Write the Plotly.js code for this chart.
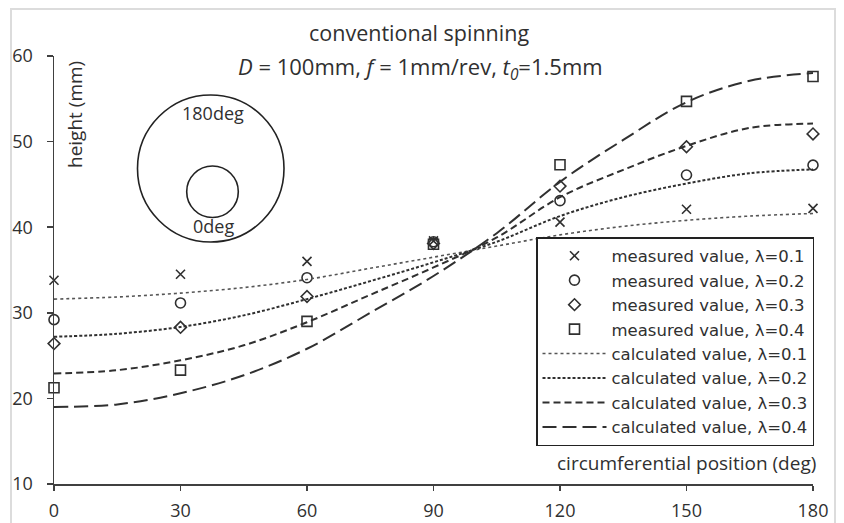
<!DOCTYPE html>
<html>
<head>
<meta charset="utf-8">
<script src="https://cdn.plot.ly/plotly-3.0.1.min.js"></script>
<style>
  html, body { margin: 0; padding: 0; background: #fff; }
  #frame { position: absolute; left: 10px; top: 8px; width: 826px; height: 540px; border: 2px solid #dcdcdc; box-sizing: border-box; }
  #chart { position: absolute; left: 0; top: 0; width: 844px; height: 523px; }
</style>
</head>
<body>
<div id="frame"></div>
<div id="chart"></div>
<script>
// measured positions (deg)
const measX = [0, 30, 60, 90, 120, 150, 180];
const meas01 = [33.8, 34.5, 36.0, 38.4, 40.6, 42.1, 42.2];
const meas02 = [29.2, 31.15, 34.1, 38.3, 43.1, 46.1, 47.25];
const meas03 = [26.4, 28.3, 31.9, 38.1, 44.8, 49.4, 50.9];
const meas04 = [21.25, 23.3, 29.0, 38.0, 47.3, 54.7, 57.6];

// calculated curves (deg)
const calcX = [0, 15, 30, 45, 60, 75, 90, 105, 120, 135, 150, 165, 180];
const calc01 = [31.6, 31.85, 32.3, 32.95, 33.9, 35.2, 36.5, 37.8, 39.1, 40.1, 40.8, 41.3, 41.6];
const calc02 = [27.2, 27.55, 28.35, 29.7, 31.6, 33.7, 35.9, 38.3, 41.3, 43.5, 45.1, 46.3, 46.75];
const calc03 = [22.9, 23.3, 24.45, 26.2, 28.9, 32.1, 35.3, 38.8, 43.5, 46.7, 49.5, 51.6, 52.1];
const calc04 = [19.0, 19.3, 20.6, 22.7, 25.8, 30.0, 34.3, 39.3, 45.3, 50.2, 54.6, 57.1, 58.0];

const xTicks = [0, 30, 60, 90, 120, 150, 180];
const yTicks = [10, 20, 30, 40, 50, 60];

const measNames = ['measured value, λ=0.1', 'measured value, λ=0.2', 'measured value, λ=0.3', 'measured value, λ=0.4'];
const calcNames = ['calculated value, λ=0.1', 'calculated value, λ=0.2', 'calculated value, λ=0.3', 'calculated value, λ=0.4'];

const FONT = '"Open Sans", sans-serif';
const LEGFONT = '"DejaVu Sans", sans-serif';
const DARK = '#303030';

function meas(y, name, symbol, size) {
  return {
    x: measX, y: y, name: name, type: 'scatter', mode: 'markers', cliponaxis: false,
    marker: { symbol: symbol, size: size, color: DARK, line: { color: DARK, width: 1.6 } }
  };
}
function calc(y, name, dash, width, color) {
  return {
    x: calcX, y: y, name: name, type: 'scatter', mode: 'lines', cliponaxis: false,
    line: { shape: 'spline', smoothing: 1, dash: dash, width: width, color: color }
  };
}

const data = [
  meas(meas01, measNames[0], 'x-thin-open', 9),
  meas(meas02, measNames[1], 'circle-open', 10),
  meas(meas03, measNames[2], 'diamond-open', 9),
  meas(meas04, measNames[3], 'square-open', 10),
  calc(calc01, calcNames[0], 'dot', 1.6, '#555555'),
  calc(calc02, calcNames[1], '3px,2px', 2, DARK),
  calc(calc03, calcNames[2], '7px,4px', 2, DARK),
  calc(calc04, calcNames[3], '14px,6px', 2, DARK)
];

const L = 54, R = 31, T = 56, B = 39;
const W = 844 - L - R, H = 523 - T - B;
const px = X => (X - L) / W;
const py = Y => (523 - B - Y) / H;

const layout = {
  width: 844, height: 523,
  margin: { l: L, r: R, t: T, b: B },
  paper_bgcolor: 'rgba(0,0,0,0)', plot_bgcolor: 'rgba(0,0,0,0)',
  font: { family: FONT, color: DARK, size: 18 },
  showlegend: true,
  legend: {
    x: px(814), xanchor: 'right', y: py(237), yanchor: 'top',
    bordercolor: '#222', borderwidth: 1.5, bgcolor: '#fff',
    font: { family: LEGFONT, size: 16.5, color: DARK },
    itemwidth: 64, tracegroupgap: 0
  },
  xaxis: {
    range: [0, 180], tickvals: xTicks, ticktext: xTicks.map(String),
    showgrid: false, zeroline: false, showline: true, linecolor: '#404040', linewidth: 1.5,
    ticks: 'outside', ticklen: 5, tickwidth: 1.5, tickcolor: '#404040', ticklabelstandoff: 5,
    tickfont: { family: FONT, size: 18, color: DARK }
  },
  yaxis: {
    range: [10, 60], tickvals: yTicks, ticktext: yTicks.map(String),
    showgrid: false, zeroline: false, showline: true, linecolor: '#404040', linewidth: 1.5,
    ticks: 'outside', ticklen: 6, tickwidth: 1.5, tickcolor: '#404040', ticklabelstandoff: 10,
    tickfont: { family: FONT, size: 18, color: DARK }
  },
  shapes: [
    { type: 'circle', xref: 'paper', yref: 'paper', x0: px(137.5), x1: px(284), y0: py(242), y1: py(95), line: { color: '#222', width: 1.6 } },
    { type: 'circle', xref: 'paper', yref: 'paper', x0: px(186.7), x1: px(238.3), y0: py(217.5), y1: py(166), line: { color: '#222', width: 1.6 } }
  ],
  annotations: [
    { text: 'conventional spinning', xref: 'paper', yref: 'paper', x: px(419), y: py(33), showarrow: false, xanchor: 'center', yanchor: 'middle', font: { size: 21.5, family: FONT, color: DARK } },
    { text: '<i>D</i> = 100mm, <i>f</i> = 1mm/rev, <i>t</i><sub><i>0</i></sub>=1.5mm', xref: 'paper', yref: 'paper', x: px(420), y: py(68), showarrow: false, xanchor: 'center', yanchor: 'middle', font: { size: 22, family: FONT, color: DARK } },
    { text: 'height (mm)', xref: 'paper', yref: 'paper', x: px(75), y: py(115), showarrow: false, textangle: -90, xanchor: 'center', yanchor: 'middle', font: { size: 19, family: FONT, color: DARK } },
    { text: 'circumferential position (deg)', xref: 'paper', yref: 'paper', x: px(818), y: py(463), showarrow: false, xanchor: 'right', yanchor: 'middle', font: { size: 19, family: FONT, color: DARK } },
    { text: '180deg', xref: 'paper', yref: 'paper', x: px(213), y: py(113), showarrow: false, xanchor: 'center', yanchor: 'middle', font: { size: 18, family: FONT, color: DARK } },
    { text: '0deg', xref: 'paper', yref: 'paper', x: px(213), y: py(226), showarrow: false, xanchor: 'center', yanchor: 'middle', font: { size: 18, family: FONT, color: DARK } }
  ]
};

Plotly.newPlot('chart', data, layout, { staticPlot: true, displayModeBar: false });
</script>
</body>
</html>
